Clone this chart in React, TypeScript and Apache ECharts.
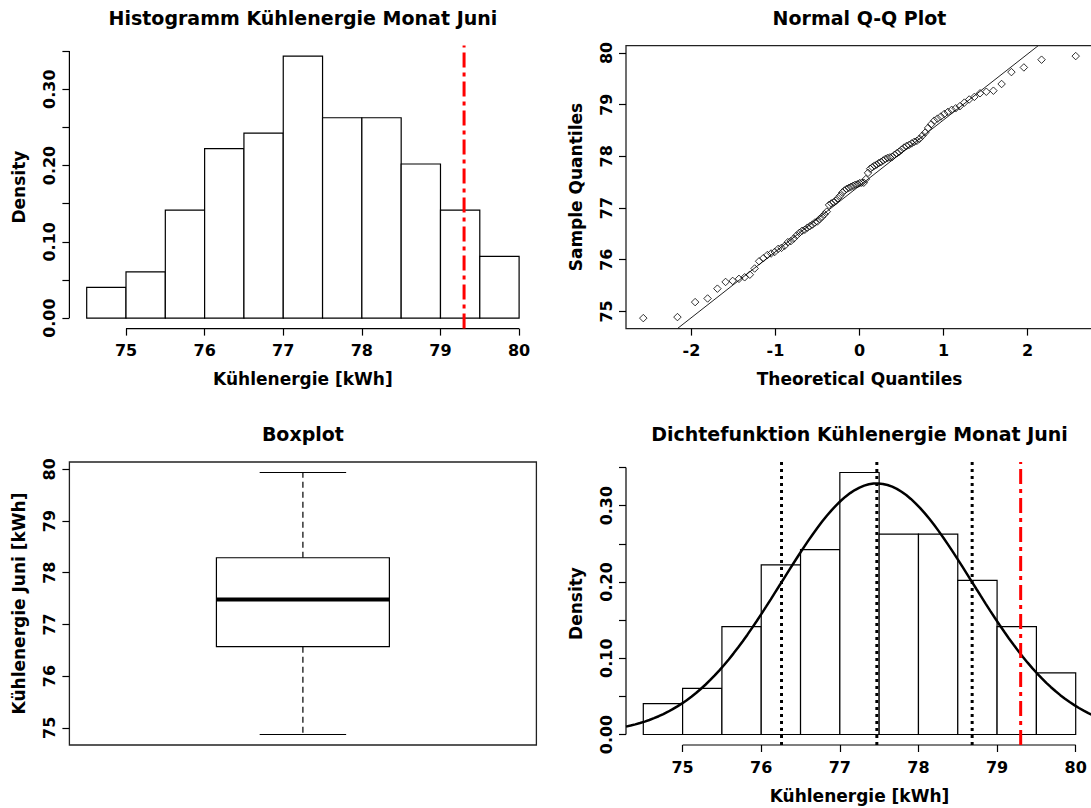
import React, { useEffect, useRef } from "react";
import * as echarts from "echarts";

const kuehlenergie: number[] = [
  74.87, 74.89,
  75.18, 75.25, 75.44,
  75.57, 75.59, 75.63, 75.66, 75.71, 75.83, 75.97,
  76.03, 76.09, 76.12, 76.15, 76.21, 76.23, 76.27, 76.34, 76.36, 76.41, 76.47,
  76.52, 76.56, 76.58, 76.62, 76.65, 76.68, 76.72, 76.74, 76.79, 76.83, 76.88, 76.93,
  77.06, 77.09, 77.11, 77.14, 77.19, 77.24, 77.3, 77.34, 77.37, 77.39, 77.41, 77.43, 77.45, 77.46, 77.48, 77.49, 77.49,
  77.56, 77.68, 77.76, 77.79, 77.82, 77.84, 77.87, 77.89, 77.92, 77.95, 77.97, 77.98, 77.99,
  78.03, 78.06, 78.09, 78.13, 78.17, 78.2, 78.22, 78.25, 78.28, 78.3, 78.34, 78.4, 78.46,
  78.55, 78.62, 78.69, 78.73, 78.77, 78.82, 78.86, 78.9, 78.93, 78.97,
  79.04, 79.1, 79.15, 79.22, 79.25, 79.27, 79.4,
  79.63, 79.72, 79.87, 79.94,
];

const histBreaks: number[] = [74.5, 75, 75.5, 76, 76.5, 77, 77.5, 78, 78.5, 79, 79.5, 80];
const energyTicks: number[] = [75, 76, 77, 78, 79, 80];
const densityTicks: number[] = [0, 0.05, 0.1, 0.15, 0.2, 0.25, 0.3, 0.35];
const densityLabels: number[] = [0, 0.1, 0.2, 0.3];
const theoTicks: number[] = [-2, -1, 0, 1, 2];
const grenzwert = 79.3;

const titles = {
  hist: "Histogramm Kühlenergie Monat Juni",
  qq: "Normal Q-Q Plot",
  box: "Boxplot",
  dens: "Dichtefunktion Kühlenergie Monat Juni",
};
const axisNames = {
  energy: "Kühlenergie [kWh]",
  density: "Density",
  theo: "Theoretical Quantiles",
  sample: "Sample Quantiles",
  boxY: "Kühlenergie Juni [kWh]",
};

function qnorm(p: number): number {
  const a = [-3.969683028665376e1, 2.209460984245205e2, -2.759285104469687e2, 1.38357751867269e2, -3.066479806614716e1, 2.506628277459239];
  const b = [-5.447609879822406e1, 1.615858368580409e2, -1.556989798598866e2, 6.680131188771972e1, -1.328068155288572e1];
  const c = [-7.784894002430293e-3, -3.223964580411365e-1, -2.400758277161838, -2.549732539343734, 4.374664141464968, 2.938163982698783];
  const d = [7.784695709041462e-3, 3.224671290700398e-1, 2.445134137142996, 3.754408661907416];
  const pl = 0.02425;
  if (p < pl) {
    const q = Math.sqrt(-2 * Math.log(p));
    return (((((c[0] * q + c[1]) * q + c[2]) * q + c[3]) * q + c[4]) * q + c[5]) / ((((d[0] * q + d[1]) * q + d[2]) * q + d[3]) * q + 1);
  }
  if (p <= 1 - pl) {
    const q = p - 0.5;
    const r = q * q;
    return ((((((a[0] * r + a[1]) * r + a[2]) * r + a[3]) * r + a[4]) * r + a[5]) * q) / (((((b[0] * r + b[1]) * r + b[2]) * r + b[3]) * r + b[4]) * r + 1);
  }
  const q = Math.sqrt(-2 * Math.log(1 - p));
  return -(((((c[0] * q + c[1]) * q + c[2]) * q + c[3]) * q + c[4]) * q + c[5]) / ((((d[0] * q + d[1]) * q + d[2]) * q + d[3]) * q + 1);
}

const FONT = "DejaVu Sans";

export default function App() {
  const ref = useRef<HTMLDivElement>(null);

  useEffect(() => {
    if (!ref.current) return;
    const chart = echarts.init(ref.current, null, { renderer: "svg" });

    const x = [...kuehlenergie].sort((p, q) => p - q);
    const n = x.length;
    const bw = histBreaks[1] - histBreaks[0];

    // histogram (right-closed bins)
    const counts = histBreaks.slice(0, -1).map(() => 0);
    x.forEach((v) => {
      for (let k = 0; k < counts.length; k++) {
        if ((v > histBreaks[k] || (k === 0 && v === histBreaks[0])) && v <= histBreaks[k + 1]) {
          counts[k]++;
          break;
        }
      }
    });
    const dens = counts.map((c) => c / (n * bw));
    const bars = dens.map((dv, k) => [histBreaks[k], histBreaks[k + 1], dv]);
    const maxD = Math.max(...dens);
    const dLo = -0.04 * maxD;
    const dHi = 1.04 * maxD;
    const bRange = histBreaks[histBreaks.length - 1] - histBreaks[0];
    const xLo = histBreaks[0] - 0.04 * bRange;
    const xHi = histBreaks[histBreaks.length - 1] + 0.04 * bRange;

    // stats
    const mean = x.reduce((s, v) => s + v, 0) / n;
    const sd = Math.sqrt(x.reduce((s, v) => s + (v - mean) ** 2, 0) / (n - 1));
    const q7 = (p: number) => {
      const h = (n - 1) * p;
      const lo = Math.floor(h);
      return x[lo] + (h - lo) * ((x[lo + 1] ?? x[lo]) - x[lo]);
    };
    const n4 = Math.floor((n + 3) / 2) / 2;
    const hinge = (pos: number) => 0.5 * (x[Math.floor(pos) - 1] + x[Math.ceil(pos) - 1]);
    const five = [x[0], hinge(n4), hinge((n + 1) / 2), hinge(n + 1 - n4), x[n - 1]];

    // QQ
    const theo = x.map((_, i) => qnorm((i + 0.5) / n));
    const zMax = Math.max(...theo.map(Math.abs));
    const qxLo = -zMax - 0.08 * zMax;
    const qxHi = zMax + 0.08 * zMax;
    const dRange = x[n - 1] - x[0];
    const vLo = x[0] - 0.04 * dRange;
    const vHi = x[n - 1] + 0.04 * dRange;
    const qq1 = q7(0.25), qq3 = q7(0.75);
    const slope = (qq3 - qq1) / (qnorm(0.75) - qnorm(0.25));
    const inter = qq1 - slope * qnorm(0.25);

    // density curve
    const curve: number[][] = [];
    for (let i = 0; i <= 100; i++) {
      const xv = xLo + ((xHi - xLo) * i) / 100;
      curve.push([xv, Math.exp(-0.5 * ((xv - mean) / sd) ** 2) / (sd * Math.sqrt(2 * Math.PI))]);
    }

    const L1 = 69.4, L2 = 626, W = 467, T1 = 45.6, T2 = 462, H = 283;
    const grids = [
      { left: L1, top: T1, width: W, height: H },
      { left: L2, top: T1, width: W, height: H, show: true, borderColor: "#222", borderWidth: 1.3, backgroundColor: "transparent" },
      { left: L1, top: T2, width: W, height: H, show: true, borderColor: "#222", borderWidth: 1.3, backgroundColor: "transparent" },
      { left: L2, top: T2, width: W, height: H },
    ].map((g) => ({ ...g, containLabel: false, outerBoundsMode: "none" }));

    const labelStyle = { fontSize: 16, fontWeight: "bold", fontFamily: FONT, color: "#000" };
    const tickStyle = { color: "#000", width: 1.2 };
    const mkX = (gi: number, min: number, max: number, ticks: number[] | null, fmt?: (v: number) => string) => ({
      type: "value",
      gridIndex: gi,
      position: "bottom",
      min,
      max,
      show: ticks !== null,
      axisLine: { show: false, onZero: false },
      splitLine: { show: false },
      axisTick: { show: true, customValues: ticks || [], length: 7, lineStyle: tickStyle },
      axisLabel: { show: true, customValues: ticks || [], margin: 14, formatter: fmt || ((v: number) => String(v)), ...labelStyle },
    });
    const mkY = (gi: number, min: number, max: number, ticks: number[], labels: number[], fmt?: (v: number) => string) => ({
      type: "value",
      gridIndex: gi,
      position: "left",
      min,
      max,
      axisLine: { show: false, onZero: false },
      splitLine: { show: false },
      axisTick: { show: true, customValues: ticks, length: 7, lineStyle: tickStyle },
      axisLabel: { show: true, customValues: labels, rotate: 90, margin: 12, formatter: fmt || ((v: number) => String(v)), ...labelStyle },
    });

    const barItem = (params: any, api: any) => {
      const p0 = api.coord([api.value(0), 0]);
      const p1 = api.coord([api.value(1), api.value(2)]);
      return {
        type: "rect",
        shape: { x: p0[0], y: p1[1], width: p1[0] - p0[0], height: p0[1] - p1[1] },
        style: { fill: "#fff", stroke: "#000", lineWidth: 1.2 },
      };
    };
    const segment = (xi: number, data: number[][], color: string, width: number, type: any, z = 5, clip = true) => ({
      type: "line",
      xAxisIndex: xi,
      yAxisIndex: xi,
      data,
      symbol: "none",
      showSymbol: false,
      silent: true,
      clip,
      z,
      lineStyle: { color, width, type },
    });

    const textEl = (t: string, x: number, y: number, size: number, rot = 0) => ({
      type: "text",
      x,
      y,
      rotation: rot,
      silent: true,
      style: { text: t, fontSize: size, fontWeight: "bold", fontFamily: FONT, fill: "#000", align: "center", verticalAlign: "middle" },
    });
    const cx1 = L1 + W / 2, cx2 = L2 + W / 2;
    const cy1 = T1 + H / 2, cy2 = T2 + H / 2;

    const option: any = {
      animation: false,
      backgroundColor: "#fff",
      grid: grids,
      xAxis: [
        mkX(0, xLo, xHi, energyTicks),
        mkX(1, qxLo, qxHi, theoTicks),
        mkX(2, 0.5 - 0.04, 1.5 + 0.04, null),
        mkX(3, xLo, xHi, energyTicks),
      ],
      yAxis: [
        mkY(0, dLo, dHi, densityTicks, densityLabels, (v) => v.toFixed(2)),
        mkY(1, vLo, vHi, energyTicks, energyTicks),
        mkY(2, vLo, vHi, energyTicks, energyTicks),
        mkY(3, dLo, dHi, densityTicks, densityLabels, (v) => v.toFixed(2)),
      ],
      graphic: [
        textEl(titles.hist, cx1, 17.5, 19),
        textEl(titles.qq, cx2, 17.5, 19),
        textEl(titles.box, cx1, 433.5, 19),
        textEl(titles.dens, cx2, 433.5, 19),
        textEl(axisNames.energy, cx1, 379, 17),
        textEl(axisNames.theo, cx2, 379, 17),
        textEl(axisNames.energy, cx2, 795.5, 17),
        textEl(axisNames.density, L1 - 50, cy1, 17, Math.PI / 2),
        textEl(axisNames.sample, L2 - 50, cy1, 17, Math.PI / 2),
        textEl(axisNames.boxY, L1 - 50, cy2, 17, Math.PI / 2),
        textEl(axisNames.density, L2 - 50, cy2, 17, Math.PI / 2),
      ],
      series: [
        // histogram
        { type: "custom", xAxisIndex: 0, yAxisIndex: 0, data: bars, renderItem: barItem, silent: true, z: 2 },
        segment(0, [[energyTicks[0], dLo], [energyTicks[energyTicks.length - 1], dLo]], "#000", 1.2, "solid", 5, false),
        segment(0, [[xLo, densityTicks[0]], [xLo, densityTicks[densityTicks.length - 1]]], "#000", 1.2, "solid", 5, false),
        segment(0, [[grenzwert, dLo], [grenzwert, dHi]], "#ff0000", 3, [15, 5, 4, 5], 6),
        // QQ plot
        {
          type: "scatter",
          xAxisIndex: 1,
          yAxisIndex: 1,
          data: x.map((v, i) => [theo[i], v]),
          symbol: "diamond",
          symbolSize: 7.5,
          silent: true,
          itemStyle: { color: "rgba(0,0,0,0)", borderColor: "#000", borderWidth: 1 },
          z: 4,
        },
        segment(1, [[qxLo, inter + slope * qxLo], [qxHi, inter + slope * qxHi]], "#222", 1, "solid", 3),
        // boxplot
        {
          type: "custom",
          xAxisIndex: 2,
          yAxisIndex: 2,
          data: [[1, ...five]],
          silent: true,
          z: 3,
          renderItem: (params: any, api: any) => {
            const c = api.value(0);
            const [mn, h1, md, h3, mx] = [1, 2, 3, 4, 5].map((k) => api.value(k));
            const bl = api.coord([c - 0.2, h3]);
            const br = api.coord([c + 0.2, h1]);
            const m0 = api.coord([c - 0.2, md]);
            const m1 = api.coord([c + 0.2, md]);
            const cTop = api.coord([c, mx]);
            const cQ3 = api.coord([c, h3]);
            const cQ1 = api.coord([c, h1]);
            const cBot = api.coord([c, mn]);
            const s0 = api.coord([c - 0.1, mx]);
            const s1 = api.coord([c + 0.1, mx]);
            const t0 = api.coord([c - 0.1, mn]);
            const t1 = api.coord([c + 0.1, mn]);
            const line = (a: number[], b: number[], w: number, dash?: number[]) => ({
              type: "line",
              shape: { x1: a[0], y1: a[1], x2: b[0], y2: b[1] },
              style: { stroke: "#000", lineWidth: w, lineDash: dash },
            });
            return {
              type: "group",
              children: [
                line(cQ3, cTop, 1.2, [6, 4]),
                line(cQ1, cBot, 1.2, [6, 4]),
                line(s0, s1, 1.2),
                line(t0, t1, 1.2),
                {
                  type: "rect",
                  shape: { x: bl[0], y: bl[1], width: br[0] - bl[0], height: br[1] - bl[1] },
                  style: { fill: "#fff", stroke: "#000", lineWidth: 1.2 },
                },
                line(m0, m1, 4),
              ],
            };
          },
        },
        // density panel
        { type: "custom", xAxisIndex: 3, yAxisIndex: 3, data: bars, renderItem: barItem, silent: true, z: 2 },
        segment(3, [[energyTicks[0], dLo], [energyTicks[energyTicks.length - 1], dLo]], "#000", 1.2, "solid", 5, false),
        segment(3, [[xLo, densityTicks[0]], [xLo, densityTicks[densityTicks.length - 1]]], "#000", 1.2, "solid", 5, false),
        segment(3, curve, "#000", 2.5, "solid", 4),
        segment(3, [[mean - sd, dLo], [mean - sd, dHi]], "#000", 3, [3, 4], 5),
        segment(3, [[mean, dLo], [mean, dHi]], "#000", 3, [3, 4], 5),
        segment(3, [[mean + sd, dLo], [mean + sd, dHi]], "#000", 3, [3, 4], 5),
        segment(3, [[grenzwert, dLo], [grenzwert, dHi]], "#ff0000", 3, [15, 5, 4, 5], 6),
      ],
    };

    chart.setOption(option);
    return () => chart.dispose();
  }, []);

  return (
    <div
      ref={ref}
      style={{ position: "absolute", left: 0, top: 0, width: 1091, height: 808, background: "#fff" }}
    />
  );
}
